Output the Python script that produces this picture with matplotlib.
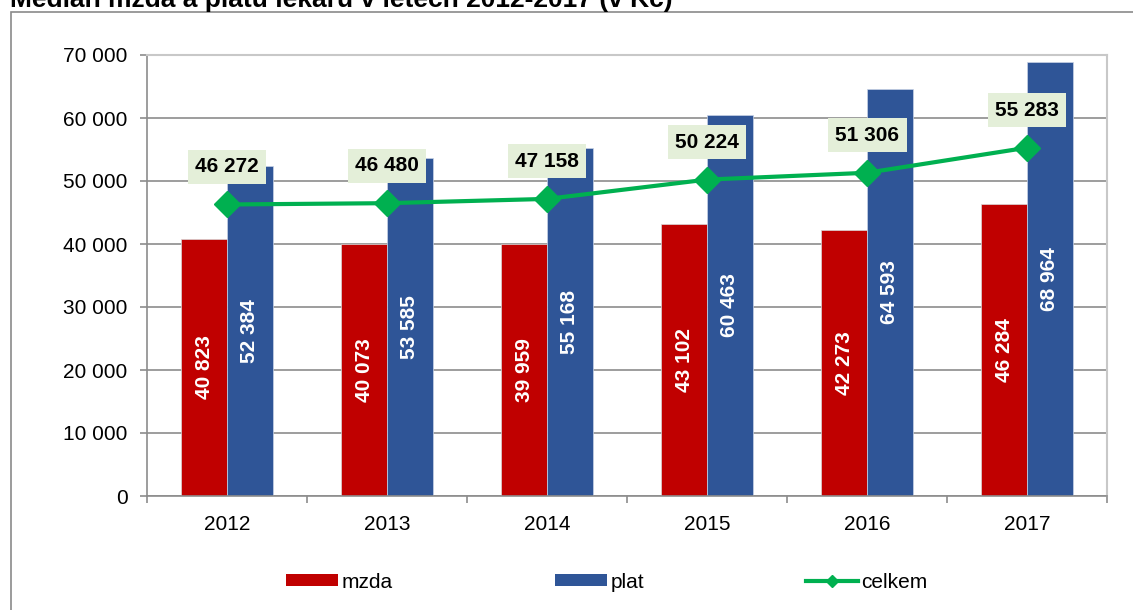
import matplotlib
matplotlib.use('Agg')
import matplotlib.pyplot as plt
from matplotlib.lines import Line2D
from matplotlib.patches import Patch, Rectangle
import numpy as np

plt.rcParams['font.family'] = ['Liberation Sans', 'DejaVu Sans']

# data
years = ['2012', '2013', '2014', '2015', '2016', '2017']
mzda = [40823, 40073, 39959, 43102, 42273, 46284]
plat = [52384, 53585, 55168, 60463, 64593, 68964]
celkem = [46272, 46480, 47158, 50224, 51306, 55283]
yticks = [0, 10000, 20000, 30000, 40000, 50000, 60000, 70000]
title = 'Medián mzda a platu lékařů v letech 2012-2017 (v Kč)'

RED = '#C00000'
BLUE = '#2F5597'
GREEN = '#00B050'
GRID = '#8c8c8c'


def fmt(v):
    return f'{v:,}'.replace(',', ' ')


fig = plt.figure(figsize=(11.33, 6.10), dpi=100)
W, H = 1133, 610

# outer chart frame (cut off on right and bottom)
fig.patches.append(Rectangle((11 / W, -0.05), 1.2, 1 - 12 / H + 0.05,
                             transform=fig.transFigure, fill=False,
                             edgecolor='#8a8a8a', linewidth=1.2, zorder=0))

# title is cut at the top edge like in the original screenshot
fig.text(10 / W, 1 - 7.5 / H, title, fontsize=19, fontweight='bold',
         ha='left', va='baseline')

ax = fig.add_axes([147 / W, 1 - 496 / H, 960 / W, 441 / H])

x = np.arange(len(years))
bw = 0.285
b1 = ax.bar(x - bw / 2, mzda, bw, color=RED, edgecolor='#d9d9d9',
            linewidth=0.5, zorder=2)
b2 = ax.bar(x + bw / 2, plat, bw, color=BLUE, edgecolor='#c9d3e6',
            linewidth=0.5, zorder=2)

for bars, vals in ((b1, mzda), (b2, plat)):
    for b, v in zip(bars, vals):
        ax.text(b.get_x() + b.get_width() / 2, v / 2, fmt(v), rotation=90,
                ha='center', va='center', color='white', fontsize=15,
                fontweight='bold', zorder=3)

ax.plot(x, celkem, color=GREEN, linewidth=3, marker='D', markersize=13,
        zorder=4)
for xi, v in zip(x, celkem):
    ax.annotate(fmt(v), (xi, v), xytext=(0, 27), textcoords='offset points',
                ha='center', va='center', fontsize=15, fontweight='bold',
                bbox=dict(boxstyle='square,pad=0.36', facecolor='#e4efd9',
                          edgecolor='none'), zorder=5)

ax.set_xlim(-0.5, len(years) - 0.5)
ax.set_ylim(0, 70000)
ax.set_yticks(yticks)
ax.set_yticklabels([fmt(t) for t in yticks])
ax.set_xticks(x)
ax.set_xticklabels(years)
ax.set_xticks(np.arange(-0.5, len(years)), minor=True)
ax.tick_params(axis='x', which='major', length=0, pad=14, labelsize=15)
ax.tick_params(axis='x', which='minor', length=5, color=GRID, width=1.2)
ax.tick_params(axis='y', length=5, color=GRID, width=1.2, pad=9,
               labelsize=15)
ax.yaxis.grid(True, color=GRID, linewidth=1.2, zorder=0)
ax.set_axisbelow(True)
for s in ('left', 'bottom'):
    ax.spines[s].set_color(GRID)
    ax.spines[s].set_linewidth(1.2)
for s in ('top', 'right'):
    ax.spines[s].set_color('#c8c8c8')
    ax.spines[s].set_linewidth(1.5)

handles = [Patch(facecolor=RED, label='mzda'),
           Patch(facecolor=BLUE, label='plat'),
           Line2D([], [], color=GREEN, linewidth=3, marker='D', markersize=6,
                  label='celkem')]
fig.legend(handles=handles, loc='center', bbox_to_anchor=(607 / W, 1 - 582 / H),
           ncol=3, frameon=False, fontsize=15, handlelength=2.5,
           handleheight=0.5, handletextpad=0.15, columnspacing=7.8)

fig.savefig('out.png', dpi=100)
